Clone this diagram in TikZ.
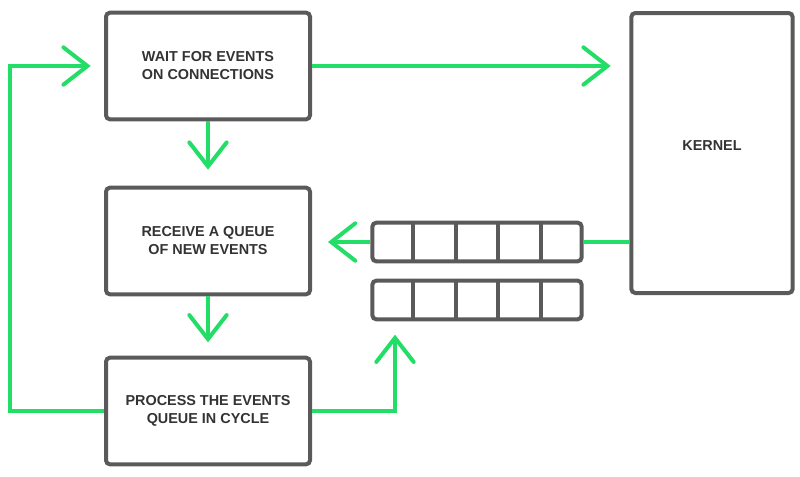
\documentclass[tikz,border=0pt]{standalone}
\usepackage{fontspec}
\setmainfont{Liberation Sans}
\usetikzlibrary{arrows.meta,positioning,calc}
\definecolor{boxgray}{HTML}{5A5A5A}
\definecolor{evgreen}{HTML}{22DD66}
\definecolor{textgray}{HTML}{333333}

\begin{document}
\begin{tikzpicture}[
    x=0.75pt, y=-0.75pt,
    box/.style={draw=boxgray, line width=3pt, rounded corners=3pt, minimum width=153pt, minimum height=80pt, align=center, text=textgray, font=\bfseries\fontsize{10.8}{13.5}\selectfont},
    kernelbox/.style={box, minimum width=121pt, minimum height=210pt},
    queue/.style={draw=boxgray, line width=3pt, rounded corners=3pt, minimum width=157pt, minimum height=29pt, inner sep=0pt},
    flow/.style={draw=evgreen, line width=3pt, -{Straight Barb[length=18pt,width=28pt,line cap=round]}},
    link/.style={draw=evgreen, line width=3pt}
]
    \useasboundingbox (0,0) rectangle (800,476);

    % Event loop steps
    \node[box] (wait) at (208,66) {WAIT FOR EVENTS\\ON CONNECTIONS};
    \node[box] (receive) at (208,241) {RECEIVE A QUEUE\\OF NEW EVENTS};
    \node[box] (process) at (208,411) {PROCESS THE EVENTS\\QUEUE IN CYCLE};

    % Kernel
    \node[kernelbox] (kernel) at (712,153) {\raisebox{11.5pt}{KERNEL}};

    % Event queues
    \node[queue] (q1) at (477,242) {};
    \node[queue] (q2) at (477,300) {};
    \foreach \q in {q1,q2}
        \foreach \i in {1,...,4}
            \draw[boxgray, line width=3pt] ($(\q.north west)!\i/5!(\q.north east)$) -- ($(\q.south west)!\i/5!(\q.south east)$);

    % Loop arrows
    \draw[flow, shorten >=12pt] (wait.south) -- (receive.north);
    \draw[flow, shorten >=10pt] (receive.south) -- (process.north);
    \coordinate (back) at (10,0);
    \draw[flow, shorten >=10pt] (process.west) -- (back |- process.west) |- (wait.west);
    \draw[flow, shorten >=14pt] (wait.east) -- (kernel.west |- wait.east);

    % Queue arrows
    \draw[link] (kernel.west |- q1.east) -- (q1.east);
    \draw[flow, shorten >=12pt] (q1.west) -- (receive.east |- q1.west);
    \coordinate (up) at (395,0);
    \draw[flow, shorten >=10pt] (process.east) -- (up |- process.east) -- (up |- q2.south);
\end{tikzpicture}
\end{document}
